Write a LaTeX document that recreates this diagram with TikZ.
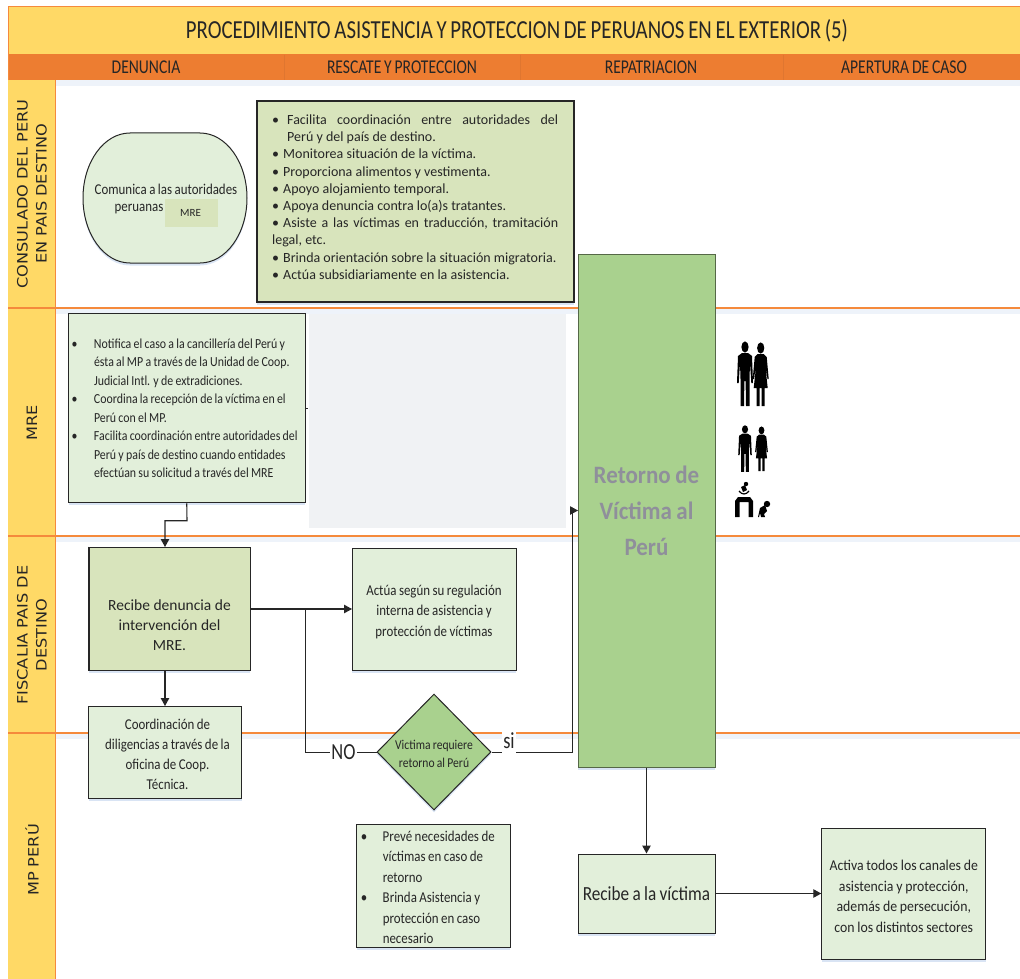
\documentclass[tikz,border=0pt]{standalone}
\usepackage{fontspec}
\setmainfont{Carlito}
\newfontfamily\narrowf[FakeStretch=.86,WordSpace=.86]{Carlito}
\newfontfamily\tallf[FakeStretch=.8,WordSpace=.8]{Carlito}
\newfontfamily\midf[FakeStretch=.92,WordSpace=.88]{Carlito}
\newfontfamily\lanef[FakeStretch=1.13]{DejaVu Sans}
\usetikzlibrary{shapes.geometric,arrows.meta,shadows}
\definecolor{ttlY}{HTML}{FFD966}
\definecolor{bandO}{HTML}{ED7D31}
\definecolor{sepO}{HTML}{DF7630}
\definecolor{lineO}{HTML}{F58A3C}
\definecolor{paleG}{HTML}{E2EFDA}
\definecolor{oliveG}{HTML}{D8E4BC}
\definecolor{midG}{HTML}{A9D18E}
\definecolor{inkK}{HTML}{262626}
\definecolor{softB}{HTML}{EEF3FA}
\definecolor{shadeB}{HTML}{C9D9F0}
\definecolor{blankG}{HTML}{F0F2F4}
\definecolor{retG}{HTML}{8F8F9B}
\newcommand\bitem[2]{\makebox[#2][l]{\hspace*{#1}\textbullet}}
\newcommand\tb[1]{\rule{0pt}{#1}}
\newcommand\manfig[4]{\begin{scope}[shift={(#1,#2)},xscale=#3,yscale=#4]
\fill[black] (0,6) ellipse [x radius=3.6,y radius=5.6];
\fill[black] (-7,15)--(-3,12)--(3,12)--(7,15)--(8,42)--(6.3,42)--(5,22)--(4.5,38)--(4.5,65)--(1,65)--(.6,40)--(-.6,40)--(-1,65)--(-4.5,65)--(-4.5,38)--(-5,22)--(-6.3,42)--(-8,42)--cycle;
\end{scope}}
\newcommand\womanfig[4]{\begin{scope}[shift={(#1,#2)},xscale=#3,yscale=#4]
\fill[black] (0,7) ellipse [x radius=3.6,y radius=5.6];
\fill[black] (-3,13)--(3,13)--(6,16)--(8,38)--(6.8,38)--(4.5,24)--(7,47)--(4,47)--(4,65)--(1,65)--(1,47)--(-1,47)--(-1,65)--(-4,65)--(-4,47)--(-7,47)--(-4.5,24)--(-6.8,38)--(-8,38)--(-6,16)--cycle;
\end{scope}}
\tikzset{
 x=1pt,y=-1pt,
 softshadow/.style={drop shadow={shadow xshift=0pt,shadow yshift=-2.5pt,fill=shadeB,opacity=.7}},
 pale/.style={draw=inkK,line width=1pt,fill=paleG,softshadow,inner sep=0pt,align=center,text=inkK},
 olive/.style={pale,fill=oliveG},
 flow/.style={draw=inkK,line width=1.1pt},
 flowarrow/.style={flow,-{Triangle[length=8pt,width=8.5pt]}},
 lanetext/.style={rotate=90,align=center,font=\lanef\fontsize{14.3}{19}\selectfont,text=inkK,inner sep=0pt},
 bandtext/.style={font=\tallf\fontsize{19.5}{22}\selectfont,text=inkK,inner sep=0pt},
}
\begin{document}
\begin{tikzpicture}
\useasboundingbox (0,0) rectangle (1020,979);
% bands
\fill[softB] (56,80) rectangle (1020,86);
\fill[ttlY] (8,7) rectangle (1020,54);
\fill[bandO] (8,54) rectangle (1020,80);
\draw[lineO,line width=1pt] (8,979)--(8,7)--(1020,7);
\fill[ttlY] (8,80) rectangle (55.5,979);
\draw[lineO,line width=1pt] (55.5,80)--(55.5,979);
\foreach \sx in {284,520,783} \draw[sepO,line width=.6pt] (\sx,55)--(\sx,80);
\foreach \ly in {308,536,733} {
 \fill[softB] (56,\ly) rectangle (1020,\ly+6);
 \draw[lineO,line width=1.3pt] (8,\ly)--(1020,\ly);
}
\node[font=\tallf\fontsize{26}{28}\selectfont,text=inkK,inner sep=0pt] (title) at (517,31) {PROCEDIMIENTO ASISTENCIA Y PROTECCION DE PERUANOS EN EL EXTERIOR (5)};
\node[bandtext] (h1) at (146,67) {DENUNCIA};
\node[bandtext] (h2) at (402,67) {RESCATE Y PROTECCION};
\node[bandtext] (h3) at (651,67.5) {REPATRIACION};
\node[bandtext] (h4) at (904,67) {APERTURA DE CASO};
\node[lanetext] (l1) at (32,194) {CONSULADO DEL PERU\\EN PAIS DESTINO};
\node[lanetext] (l2) at (32,423) {MRE};
\node[lanetext] (l3) at (32,635) {FISCALIA PAIS DE\\DESTINO};
\node[lanetext] (l4) at (32,860) {MP PERÚ};
% blank area
\fill[blankG] (309,314) rectangle (566,528);
% terminator
\draw[draw=inkK,line width=1pt,fill=paleG,softshadow] (130,133) -- (200,133) .. controls (226,133) and (247,162) .. (247,198) .. controls (247,234) and (226,263) .. (200,263) -- (130,263) .. controls (104,263) and (83,234) .. (83,198) .. controls (83,162) and (104,133) .. (130,133) -- cycle;
\node[font=\narrowf\fontsize{15}{18}\selectfont,text=inkK,inner sep=0pt] (com1) at (166,189) {Comunica a las autoridades};
\node[font=\narrowf\fontsize{15}{18}\selectfont,text=inkK,inner sep=0pt] (com2) at (139,209) {peruanas};
\node[fill=oliveG,minimum width=53pt,minimum height=28pt,inner sep=0pt,font=\fontsize{11}{13}\selectfont,text=inkK] (mresmall) at (191.5,213) {\raisebox{-1pt}{\hspace{-2pt}MRE}};
% big box
\node[olive,line width=1.5pt,minimum width=317pt,minimum height=201pt] (bigbox) at (415.5,201.5) {};
\node[font=\fontsize{14}{17.2}\selectfont,text=inkK,inner sep=0pt,align=left,anchor=west] (bigtext) at (272,197) {%
\bitem{0pt}{15pt}\makebox[271pt][s]{Facilita\hfil coordinación\hfil entre\hfil autoridades\hfil del}\\
\hspace*{15pt}Perú y del país de destino.\\
\bitem{0pt}{11pt}Monitorea situación de la víctima.\\
\bitem{0pt}{11pt}Proporciona alimentos y vestimenta.\\
\bitem{0pt}{11pt}Apoyo alojamiento temporal.\\
\bitem{0pt}{11pt}Apoya denuncia contra lo(a)s tratantes.\\
\makebox[286pt][s]{\bitem{0pt}{11pt}Asiste\hfil a\hfil las\hfil víctimas\hfil en\hfil traducción,\hfil tramitación}\\
legal, etc.\\
\bitem{0pt}{11pt}Brinda orientación sobre la situación migratoria.\\
\bitem{0pt}{11pt}Actúa subsidiariamente en la asistencia.};
% MRE box
\node[pale,minimum width=236.5pt,minimum height=189pt,text width=236.5pt,align=flush left,font=\narrowf\fontsize{13.8}{18.5}\selectfont] (mrebox) at (186.75,408.3) {%
\bitem{3pt}{25.5pt}Notifica el caso a la cancillería del Perú y\\
\hspace*{25.5pt}ésta al MP a través de la Unidad de Coop.\\
\hspace*{25.5pt}Judicial Intl. y de extradiciones.\\
\bitem{3pt}{25.5pt}Coordina la recepción de la víctima en el\\
\hspace*{25.5pt}Perú con el MP.\\
\bitem{3pt}{25.5pt}Facilita coordinación entre autoridades del\\
\hspace*{25.5pt}Perú y país de destino cuando entidades\\
\hspace*{25.5pt}efectúan su solicitud a través del MRE};
\coordinate (tickend) at (308,408);
\draw[flow,line width=1pt] (mrebox.east |- tickend) -- (tickend);
% Recibe denuncia
\node[olive,line width=1pt,minimum width=161pt,minimum height=123pt,font=\fontsize{15.5}{20}\selectfont] (recibe) at (169.5,608.5) {\tb{44pt}Recibe denuncia de\\intervención del\\MRE.};
\draw[inkK,line width=1.8pt] (recibe.north west)--(recibe.south west);
\node[pale,minimum width=164pt,minimum height=122pt,font=\narrowf\fontsize{15}{20.5}\selectfont] (actua) at (434,609) {\tb{16pt}Actúa según su regulación\\interna de asistencia y\\protección de víctimas};
\node[pale,minimum width=153pt,minimum height=92pt,font=\narrowf\fontsize{15}{20.3}\selectfont] (coord) at (165,752) {\tb{15pt}\hspace*{5pt}Coordinación de\\\hspace*{5pt}diligencias a través de la\\\hspace*{5pt}oficina de Coop.\\\hspace*{5pt}Técnica.};
\node[diamond,draw=inkK,line width=1pt,fill=midG,softshadow,minimum width=114pt,minimum height=116pt,inner sep=0pt,aspect=1] (dec) at (434,752) {};
\node[font=\narrowf\fontsize{13.5}{18}\selectfont,text=inkK,align=center,inner sep=0pt] (dectext) at (434,754) {Victima requiere\\retorno al Perú};
\node[pale,minimum width=153.5pt,minimum height=123pt,text width=153.5pt,align=flush left,font=\narrowf\fontsize{15}{20.5}\selectfont] (preve) at (433.5,885.5) {%
\tb{14pt}\bitem{4pt}{26pt}Prevé necesidades de\\
\hspace*{26pt}víctimas en caso de\\
\hspace*{26pt}retorno\\
\bitem{4pt}{26pt}Brinda Asistencia y\\
\hspace*{26pt}protección en caso\\
\hspace*{26pt}necesario};
\node[draw=black!50!midG,line width=1pt,fill=midG,softshadow,minimum width=137pt,minimum height=513pt,inner sep=0pt,font=\midf\bfseries\fontsize{25}{36}\selectfont,text=retG,align=center] (retorno) at (646.5,510.5) {Retorno de\\Víctima al\\Perú};
\node[pale,minimum width=137pt,minimum height=79pt,font=\narrowf\fontsize{20}{24}\selectfont] (recvic) at (646.5,893.5) {Recibe a la víctima};
\node[pale,minimum width=164pt,minimum height=131pt,font=\midf\fontsize{15}{20.5}\selectfont] (activa) at (903.75,893.5) {\tb{16pt}Activa todos los canales de\\asistencia y protección,\\además de persecución,\\con los distintos sectores};
% connectors
\coordinate (k1) at (187,520.7);
\coordinate (k2) at (165,520.7);
\coordinate (recibein) at (165,547);
\draw[flowarrow] (mrebox.south) -- (k1) -- (k2) -- (recibein);
\coordinate (recout) at (250,609);
\coordinate (actin) at (352,609);
\draw[flowarrow] (recout) -- (actin);
\coordinate (branch) at (305,609);
\coordinate (corner) at (305,752);
\draw[flow,line width=1pt] (branch) -- (corner) -- (dec.west);
\coordinate (coordout) at (165,670);
\coordinate (coordin) at (165,706);
\draw[flowarrow] (coordout) -- (coordin);
\coordinate (up1) at (572,752);
\coordinate (up2) at (572,510.5);
\coordinate (retin) at (578,510.5);
\draw[flow,line width=1pt] (dec.east) -- (up1) -- (up2);
\draw[flowarrow,line width=1pt] (up2) -- (retin);
\draw[flowarrow] (retorno.south) -- (recvic.north);
\draw[flowarrow] (recvic.east) -- (activa.west);
% edge labels
\node[fill=white,inner xsep=1pt,inner ysep=0pt,font=\tallf\fontsize{23}{25}\selectfont,text=inkK] (nolabel) at (343.5,752.5) {NO};
\node[fill=white,inner xsep=1pt,inner ysep=0pt,minimum height=24pt,font=\tallf\fontsize{23}{25}\selectfont,text=inkK] (silabel) at (509,741) {si};
% icons
\manfig{745}{341}{1}{1}
\womanfig{760.7}{341}{1}{1}
\manfig{745}{425}{.85}{.72}
\womanfig{761.5}{425.5}{.8}{.7}
\fill[black] (735,517) -- (735,501) -- (738,497) -- (750,497) -- (753,501) -- (753,517) -- (748.5,517) -- (748.5,502) -- (739.5,502) -- (739.5,517) -- cycle;
\draw[black,line width=1.2pt] (739,491) .. controls (742,495) and (746,495) .. (749,491);
\fill[black] (746,484) circle [radius=2.2];
\fill[black] (741,487) -- (745,485) -- (747,490) -- (743,492) -- cycle;
\fill[black] (767,504) circle [radius=3.2];
\fill[black] (760,508) -- (765,505) -- (767,511) -- (764,514) -- (765,517) -- (761,517) -- (760,513) -- (759,517) -- (758,517) -- cycle;
\end{tikzpicture}
\end{document}
